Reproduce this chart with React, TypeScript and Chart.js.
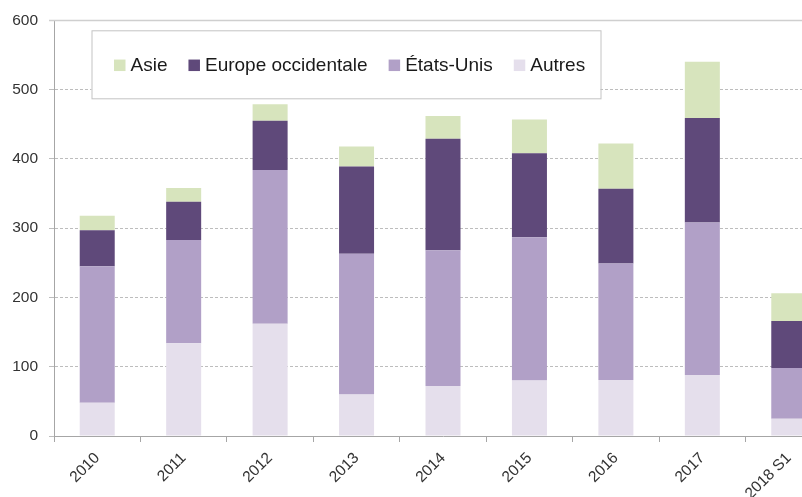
import React, { useEffect, useRef } from "react";
import { Chart, registerables } from "chart.js";

Chart.register(...registerables);

// Categories and stacked series (millions)
const categories = ["2010", "2011", "2012", "2013", "2014", "2015", "2016", "2017", "2018 S1"];
const autres = [48, 134, 162, 60, 72, 80, 81, 88, 25];
const etatsUnis = [197, 149, 222, 203, 196, 207, 168, 220, 73];
const europeOccidentale = [52, 55, 71, 126, 161, 121, 108, 151, 68];
const asie = [21, 20, 24, 29, 33, 49, 65, 81, 40];
const yTicks = [0, 100, 200, 300, 400, 500, 600];

const FONT = "'Liberation Sans', Arial, sans-serif";
const TEXT = "#333333";

// Boxed legend drawn inside the plot, top-left
const boxedLegend = {
  id: "boxedLegend",
  afterDatasetsDraw(chart: any) {
    const { ctx, chartArea } = chart;
    const x0 = chartArea.left + 37.5;
    const y0 = chartArea.top + 10;
    const w = 509;
    const h = 68;
    ctx.save();
    ctx.fillStyle = "#ffffff";
    ctx.fillRect(x0, y0, w, h);
    ctx.strokeStyle = "#c4c4c4";
    ctx.lineWidth = 1;
    ctx.strokeRect(x0 + 0.5, y0 + 0.5, w, h);

    ctx.font = `19px ${FONT}`;
    ctx.textBaseline = "middle";
    ctx.textAlign = "left";
    const cy = y0 + 35;
    const box = 11.5;
    let x = x0 + 22.5;
    const items = [...chart.data.datasets].reverse();
    for (const ds of items) {
      ctx.fillStyle = ds.backgroundColor;
      ctx.fillRect(x, cy - box / 2, box, box);
      x += box + 5;
      ctx.fillStyle = "#1a1a1a";
      ctx.fillText(ds.label, x, cy);
      x += ctx.measureText(ds.label).width + 21;
    }
    ctx.restore();
  },
};

// Solid top rule at the axis maximum
const topRule = {
  id: "topRule",
  beforeDatasetsDraw(chart: any) {
    const { ctx, chartArea, scales } = chart;
    const y = Math.round(scales.y.getPixelForValue(yTicks[yTicks.length - 1])) + 0.5;
    ctx.save();
    ctx.strokeStyle = "#cfcfcf";
    ctx.lineWidth = 1.6;
    ctx.beginPath();
    ctx.moveTo(chartArea.left - 5, y);
    ctx.lineTo(chartArea.right, y);
    ctx.stroke();
    ctx.restore();
  },
};

export default function App() {
  const ref = useRef<HTMLCanvasElement | null>(null);

  useEffect(() => {
    if (!ref.current) return;
    const maxY = yTicks[yTicks.length - 1];
    const chart = new Chart(ref.current, {
      type: "bar",
      data: {
        labels: categories,
        datasets: [
          { label: "Autres", data: autres, backgroundColor: "#e5dfec" },
          { label: "États-Unis", data: etatsUnis, backgroundColor: "#b1a0c7" },
          { label: "Europe occidentale", data: europeOccidentale, backgroundColor: "#5f497a" },
          { label: "Asie", data: asie, backgroundColor: "#d7e4bd" },
        ],
      },
      options: {
        animation: false,
        responsive: false,
        devicePixelRatio: 1,
        layout: { padding: { top: 17, right: 8, left: 0, bottom: 0 } },
        datasets: {
          bar: { categoryPercentage: 1, barPercentage: 0.405, borderWidth: 0 },
        },
        plugins: {
          legend: { display: false },
          tooltip: { enabled: false },
        },
        scales: {
          x: {
            stacked: true,
            afterFit: (s: any) => {
              s.height = 61;
            },
            grid: {
              offset: true,
              drawOnChartArea: false,
              drawTicks: true,
              tickLength: 6,
              tickColor: "#a6a6a6",
            },
            border: { color: "#a6a6a6", width: 1 },
            ticks: {
              minRotation: 45,
              maxRotation: 45,
              padding: 7,
              color: TEXT,
              font: { family: FONT, size: 15.5 },
            },
          },
          y: {
            stacked: true,
            min: 0,
            max: maxY,
            afterFit: (s: any) => {
              s.width = 54;
            },
            afterBuildTicks: (s: any) => {
              s.ticks = yTicks.map((v) => ({ value: v }));
            },
            grid: {
              color: (c: any) => (c.tick && c.tick.value === maxY ? "rgba(0,0,0,0)" : "#bdbdbd"),
              tickColor: "#bdbdbd",
              tickLength: 5,
              lineWidth: 1,
            },
            border: { color: "#a6a6a6", width: 1, dash: [3, 2] },
            ticks: {
              padding: 11,
              color: TEXT,
              font: { family: FONT, size: 15.5 },
            },
          },
        },
      },
      plugins: [topRule, boxedLegend],
    });
    return () => chart.destroy();
  }, []);

  return (
    <div
      style={{
        position: "absolute",
        left: 0,
        top: 0,
        width: 802,
        height: 497,
        overflow: "hidden",
        background: "#ffffff",
      }}
    >
      <canvas ref={ref} width={840} height={497} style={{ display: "block", width: 840, height: 497 }} />
    </div>
  );
}
